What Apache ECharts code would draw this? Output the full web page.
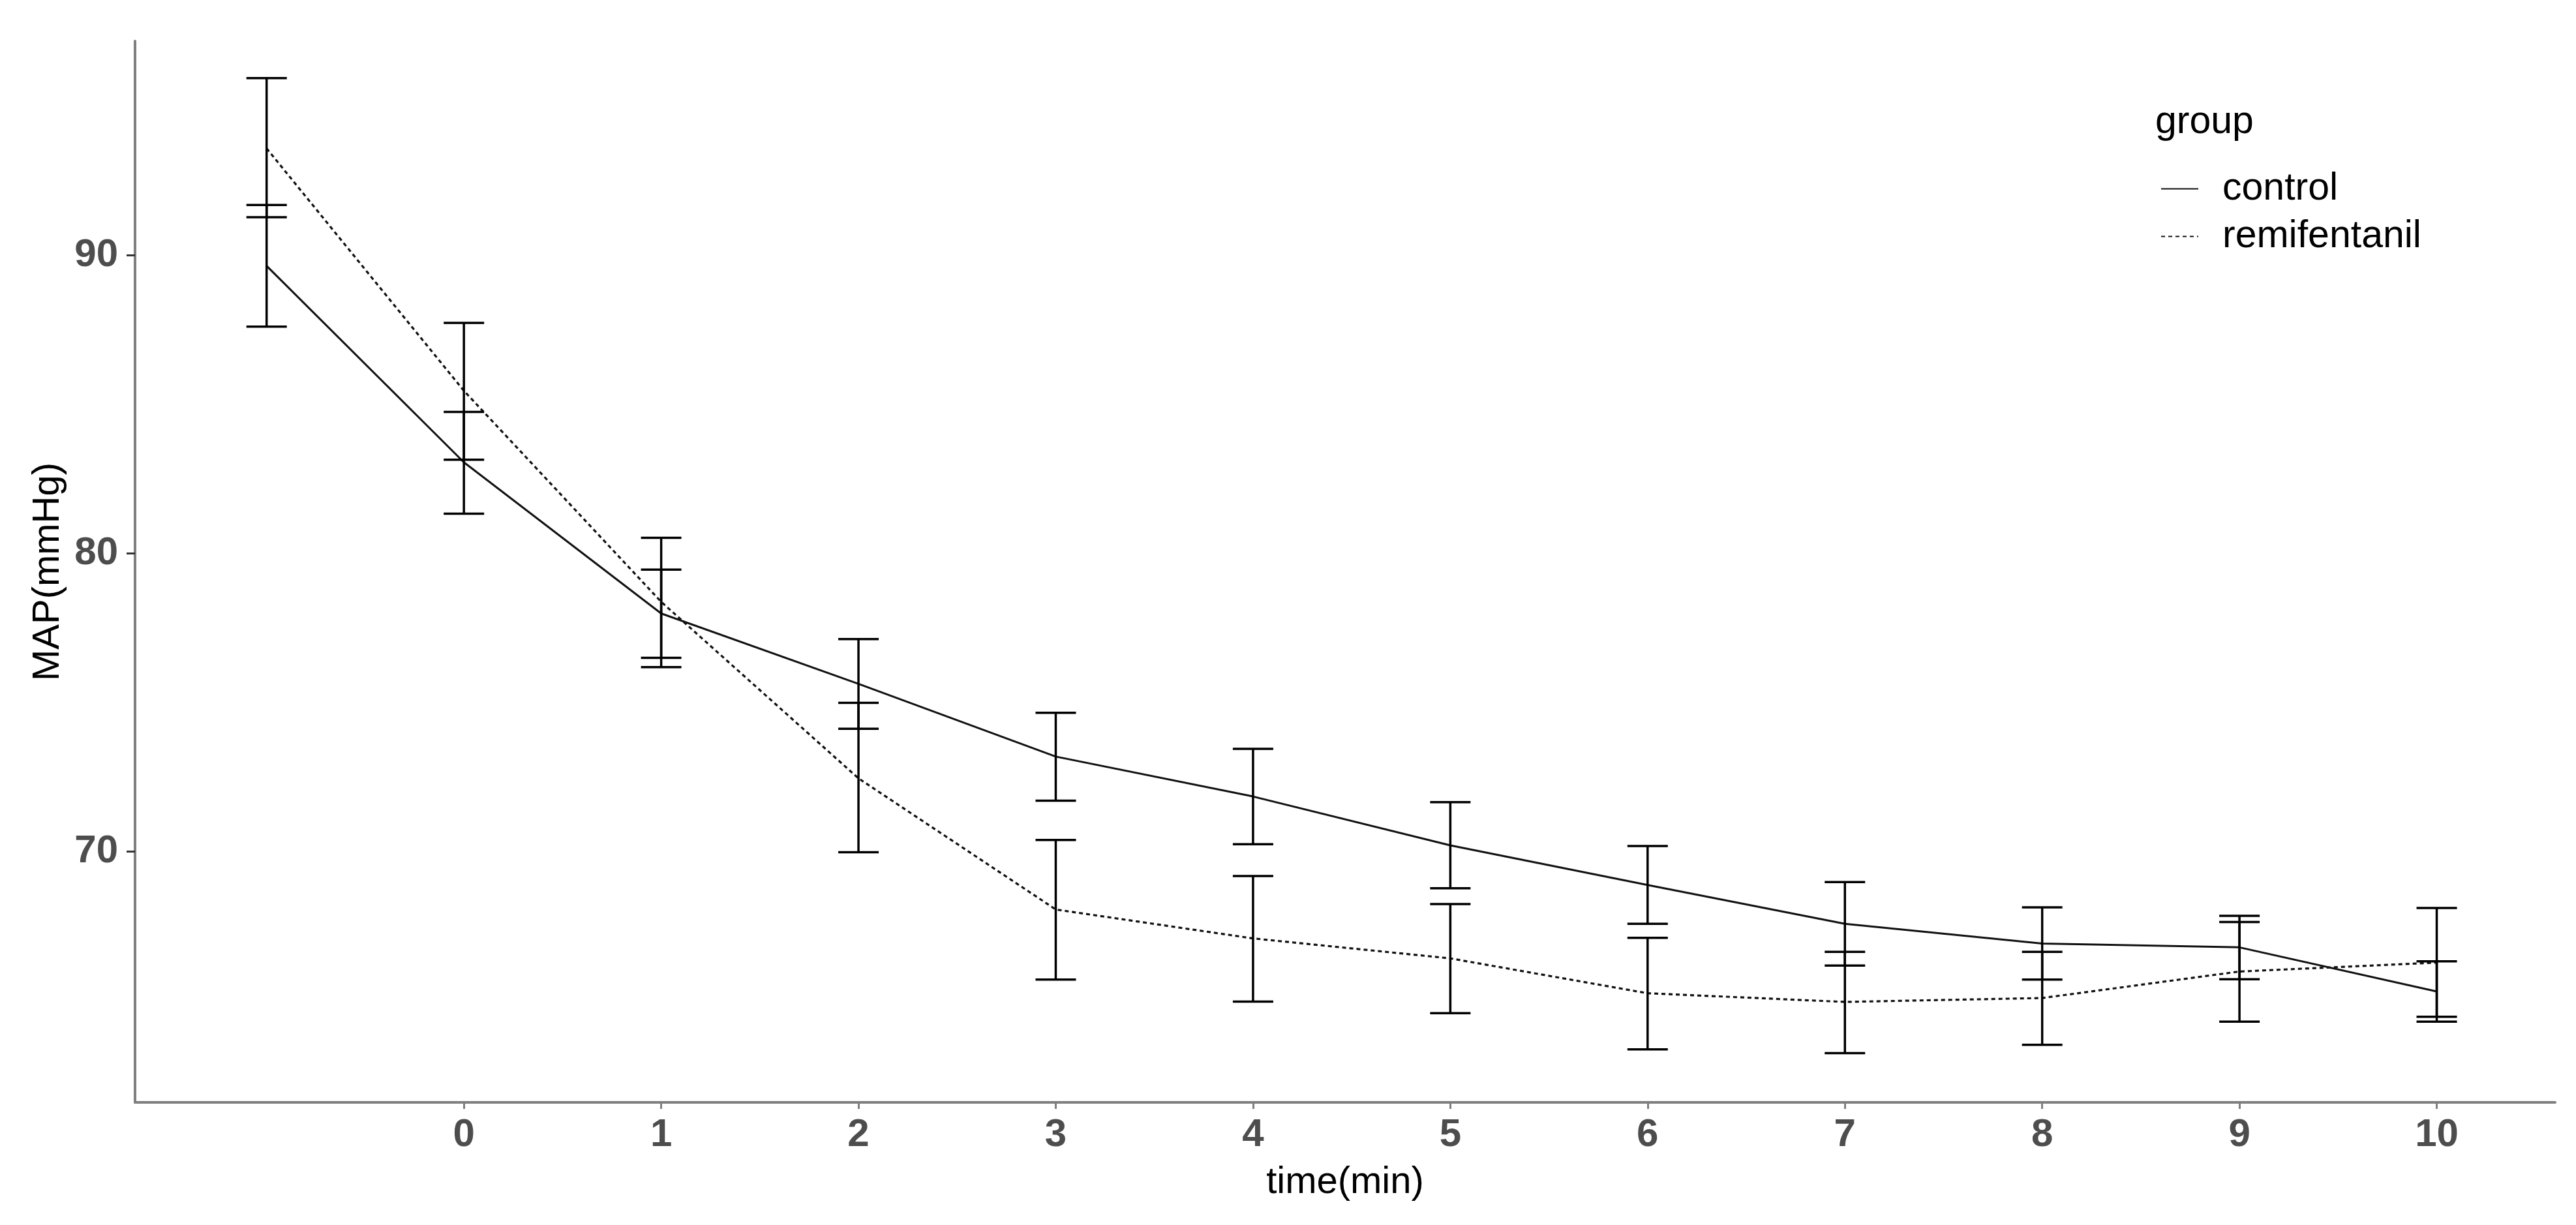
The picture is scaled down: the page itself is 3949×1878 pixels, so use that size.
<!DOCTYPE html>
<html>
<head>
<meta charset="utf-8">
<script src="https://cdn.jsdelivr.net/npm/echarts@6/dist/echarts.min.js"></script>
<style>
  html, body { margin: 0; padding: 0; background: #fff; }
  #main { width: 3949px; height: 1878px; }
</style>
</head>
<body>
<div id="main"></div>
<script>
// time points (first one has no label on the axis)
var times = [-1, 0, 1, 2, 3, 4, 5, 6, 7, 8, 9, 10];
var xTicks = [0, 1, 2, 3, 4, 5, 6, 7, 8, 9, 10];
var yTicks = [70, 80, 90];

var controlMean  = [89.64, 83.05, 77.98, 75.62, 73.18, 71.84, 70.20, 68.87, 67.57, 66.91, 66.78, 65.30];
var controlLower = [87.60, 81.33, 76.49, 74.11, 71.70, 70.24, 68.76, 67.57, 66.17, 65.70, 65.71, 64.29];
var controlUpper = [91.68, 84.74, 79.45, 77.12, 74.65, 73.44, 71.65, 70.18, 68.97, 68.12, 67.84, 66.31];

var remiMean  = [93.58, 85.45, 78.37, 72.45, 68.05, 67.08, 66.41, 65.24, 64.95, 65.08, 65.97, 66.27];
var remiLower = [91.27, 83.14, 76.18, 69.97, 65.70, 64.96, 64.57, 63.36, 63.23, 63.51, 64.29, 64.45];
var remiUpper = [95.94, 87.73, 80.52, 74.98, 70.38, 69.17, 68.23, 67.10, 66.63, 66.63, 67.63, 68.10];

var FONT = '"Liberation Sans", Arial, sans-serif';

function pairs(xs, ys) {
  return xs.map(function (x, i) { return [x, ys[i]]; });
}
function bars(xs, lo, hi) {
  return xs.map(function (x, i) { return [x, lo[i], hi[i]]; });
}

// vertical error bar with caps
function renderErrorBar(params, api) {
  var top = api.coord([api.value(0), api.value(2)]);
  var bot = api.coord([api.value(0), api.value(1)]);
  var half = 31;
  var style = { stroke: '#000', lineWidth: 3.5 };
  return {
    type: 'group',
    children: [
      { type: 'line', shape: { x1: top[0], y1: top[1], x2: bot[0], y2: bot[1] }, style: style },
      { type: 'line', shape: { x1: top[0] - half, y1: top[1], x2: top[0] + half, y2: top[1] }, style: style },
      { type: 'line', shape: { x1: bot[0] - half, y1: bot[1], x2: bot[0] + half, y2: bot[1] }, style: style }
    ]
  };
}

var chart = echarts.init(document.getElementById('main'));
var option = {
  animation: false,
  backgroundColor: '#fff',
  grid: { left: 207, right: 32, top: 63, bottom: 188, containLabel: false },
  legend: {
    data: ['control', 'remifentanil'],
    orient: 'vertical',
    left: 3307,
    top: 255,
    itemWidth: 57,
    itemHeight: 20,
    itemGap: 14,
    itemStyle: { opacity: 0 },
    textStyle: { fontSize: 59, color: '#000', fontFamily: FONT, padding: [0, 0, 0, 32] }
  },
  graphic: [{
    type: 'text',
    left: 3304,
    top: 158,
    style: { text: 'group', fontSize: 59, fill: '#000', fontFamily: FONT }
  }],
  xAxis: {
    type: 'value',
    min: -1.667,
    max: 10.6,
    name: 'time(min)',
    nameLocation: 'middle',
    nameGap: 94,
    nameTextStyle: { fontSize: 58, color: '#000', fontFamily: FONT },
    axisLine: { show: true, onZero: false, lineStyle: { color: '#7f7f7f', width: 4 } },
    axisTick: { show: true, length: 10, customValues: xTicks, lineStyle: { color: '#7f7f7f', width: 3 } },
    axisLabel: { customValues: xTicks, margin: 20, fontSize: 60, fontWeight: 'bold', color: '#4d4d4d', fontFamily: FONT },
    splitLine: { show: false }
  },
  yAxis: {
    type: 'value',
    min: 61.58,
    max: 97.18,
    name: 'MAP(mmHg)',
    nameLocation: 'middle',
    nameGap: 92,
    nameTextStyle: { fontSize: 58, color: '#000', fontFamily: FONT },
    axisLine: { show: true, onZero: false, lineStyle: { color: '#7f7f7f', width: 4 } },
    axisTick: { show: true, length: 13, customValues: yTicks, lineStyle: { color: '#333', width: 3 } },
    axisLabel: { customValues: yTicks, margin: 26, fontSize: 60, fontWeight: 'bold', color: '#4d4d4d', fontFamily: FONT },
    splitLine: { show: false }
  },
  series: [
    {
      name: 'control',
      type: 'line',
      data: pairs(times, controlMean),
      symbol: 'none',
      lineStyle: { color: '#111', width: 3, type: 'solid' },
      itemStyle: { color: '#111' },
      z: 3
    },
    {
      name: 'remifentanil',
      type: 'line',
      data: pairs(times, remiMean),
      symbol: 'none',
      lineStyle: { color: '#111', width: 3.2, type: [6, 5] },
      itemStyle: { color: '#111' },
      z: 3
    },
    {
      name: 'control',
      type: 'custom',
      renderItem: renderErrorBar,
      data: bars(times, controlLower, controlUpper),
      encode: { x: 0, y: [1, 2] },
      z: 4
    },
    {
      name: 'remifentanil',
      type: 'custom',
      renderItem: renderErrorBar,
      data: bars(times, remiLower, remiUpper),
      encode: { x: 0, y: [1, 2] },
      z: 4
    }
  ]
};
chart.setOption(option);
</script>
</body>
</html>
